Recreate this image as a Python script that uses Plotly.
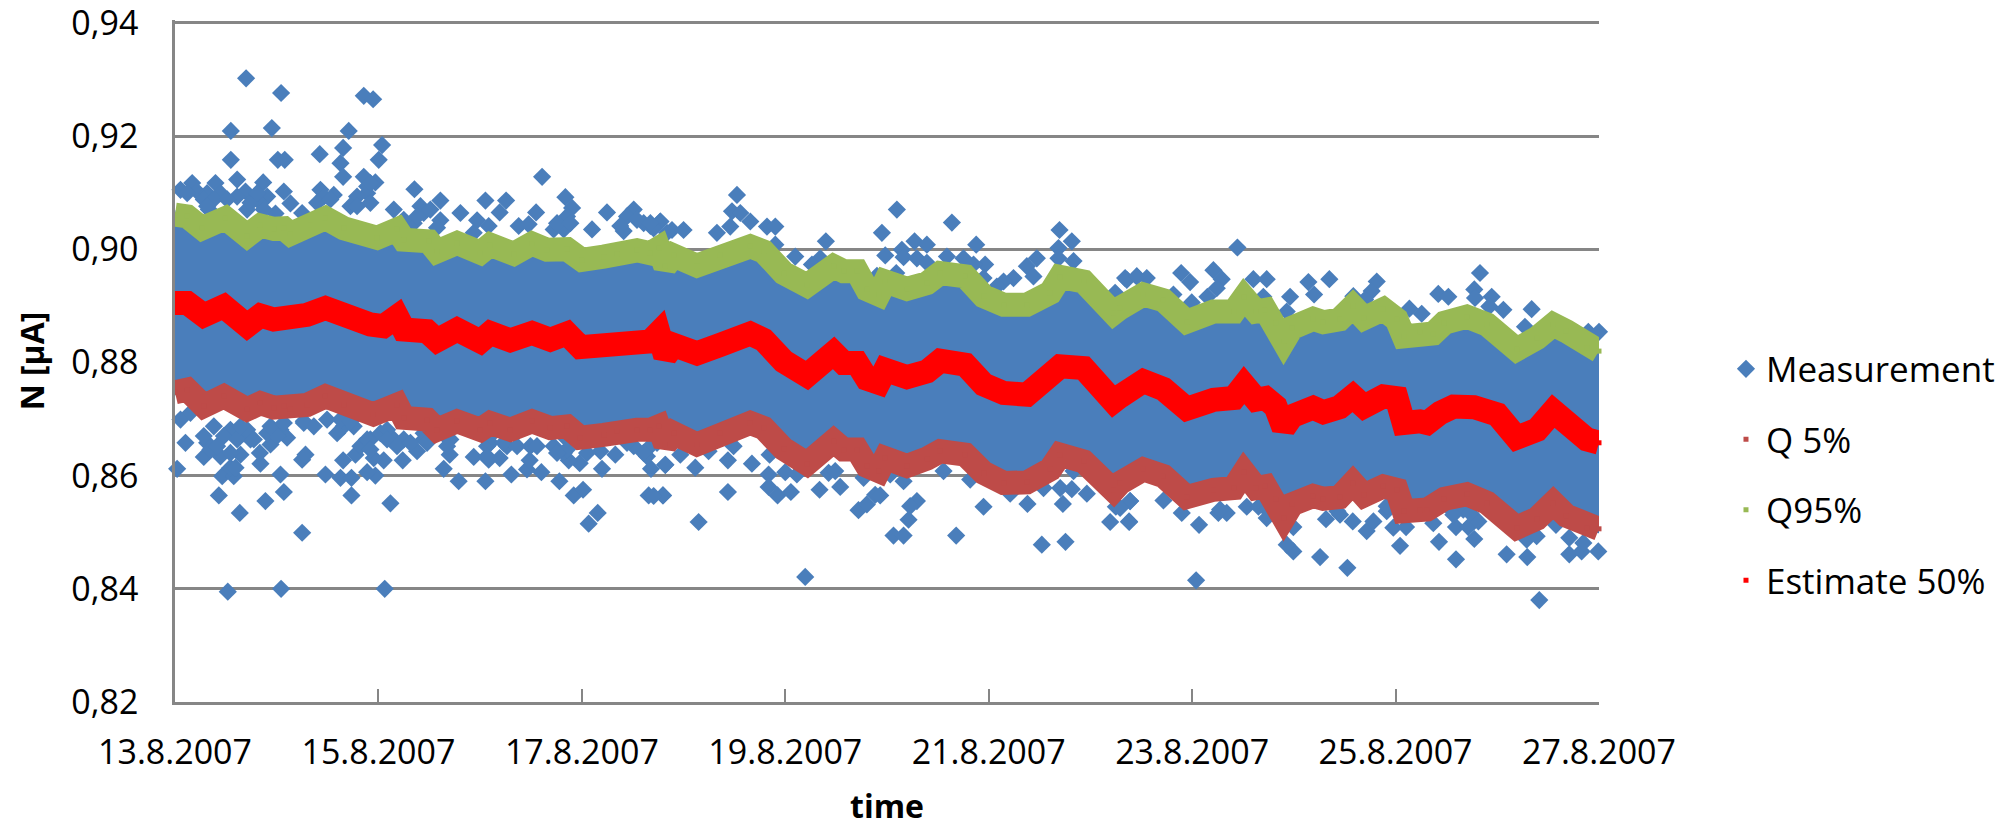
from datetime import datetime, timedelta
import plotly.graph_objects as go

START = datetime(2007, 8, 13)

estimate_days = [0,.12,.283,.48,.709,.84,.971,1.07,1.135,1.299,1.479,1.66,1.921,2.05,2.183,2.249,2.478,2.576,2.773,3.002,3.1,3.297,3.51,3.69,3.854,3.985,4.214,4.345,4.542,
 4.673,4.755,4.82,4.902,5.132,5.361,5.656,5.787,5.984,6.213,6.475,6.574,6.705,6.803,6.918,6.983,7.196,7.393,7.524,7.77,7.95,8.147,8.376,8.605,8.703,8.933,9.227,
 9.292,9.521,9.718,9.947,10.21,10.41,10.51,10.63,10.72,10.82,10.9,10.98,11.19,11.29,11.45,11.58,11.69,11.88,12.01,12.08,12.24,12.31,12.44,12.57,12.77,13.0,13.19,13.39,13.55,13.68,13.88,14.0]
estimate_vals = [.8905,.8905,.8883,.8899,.8865,.8883,.8876,.8879,.8871,.8884,.8896,.8881,.8867,.8864,.8881,.8858,.8855,.8839,.8858,.8837,.8852,.8839,.8852,.8840,.8851,.8827,.8830,.8837,.8839,
 .8837,.8852,.8811,.8831,.8816,.8831,.8851,.8840,.8802,.8777,.8817,.8799,.8799,.8771,.8764,.8787,.8774,.8784,.8803,.8796,.8761,.8746,.8743,.8778,.8793,.8790,.8731,
 .8740,.8767,.8753,.8718,.8734,.8737,.8760,.8734,.8737,.8722,.8684,.8705,.8720,.8712,.8721,.8740,.8722,.8740,.8737,.8693,.8696,.8693,.8711,.8722,.8721,.8708,.8667,.8681,.8714,.8690,.8664,.8658]

q95_days = [0,.12,.267,.496,.709,.84,.971,1.07,1.135,1.332,1.479,1.66,1.987,2.183,2.249,2.495,2.576,2.773,3.002,3.1,3.33,3.51,3.658,3.854,4.0,4.214,4.345,4.542,
 4.673,4.755,4.82,4.902,5.132,5.361,5.656,5.787,5.984,6.213,6.475,6.574,6.705,6.803,6.918,6.983,7.196,7.393,7.524,7.77,7.95,8.147,8.376,8.605,8.703,8.933,9.227,
 9.292,9.521,9.718,9.947,10.21,10.41,10.51,10.63,10.72,10.82,10.9,10.98,11.19,11.29,11.45,11.58,11.69,11.88,12.01,12.08,12.24,12.37,12.48,12.7,12.9,13.19,13.39,13.55,13.68,13.88,14.0]
q95_vals = [.9061,.9058,.9037,.9055,.9024,.9042,.9036,.9037,.9027,.9043,.9055,.9037,.9020,.9035,.9017,.9014,.8996,.9011,.8994,.9008,.8992,.9010,.8999,.9000,.8981,.8987,.8992,.8998,
 .8993,.9002,.8970,.8989,.8971,.8989,.9005,.8996,.8958,.8936,.8970,.8961,.8961,.8929,.8920,.8943,.8930,.8940,.8958,.8952,.8917,.8902,.8902,.8923,.8951,.8943,.8887,
 .8896,.8920,.8910,.8872,.8890,.8890,.8915,.8890,.8893,.8870,.8837,.8861,.8877,.8871,.8876,.8899,.8878,.8894,.8876,.8846,.8853,.8851,.8870,.8881,.8867,.8823,.8843,.8867,.8855,.8825,.8820]

q5_days = [0,.12,.283,.48,.709,.84,.971,1.07,1.135,1.299,1.479,1.66,1.95,2.183,2.249,2.478,2.576,2.773,3.002,3.1,3.297,3.51,3.69,3.854,3.985,4.214,4.345,4.542,
 4.673,4.755,4.82,4.902,5.132,5.361,5.656,5.787,5.984,6.213,6.475,6.574,6.705,6.803,6.918,6.983,7.196,7.393,7.524,7.77,7.95,8.147,8.376,8.605,8.703,8.933,9.227,
 9.292,9.521,9.718,9.947,10.21,10.41,10.51,10.63,10.72,10.82,10.9,10.98,11.19,11.29,11.45,11.58,11.69,11.88,12.01,12.08,12.24,12.31,12.48,12.7,12.9,13.19,13.39,13.55,13.68,13.88,14.0]
q5_vals = [.8747,.8752,.8723,.8740,.8717,.8728,.8720,.8723,.8717,.8725,.8740,.8725,.8708,.8725,.8702,.8699,.8681,.8696,.8681,.8693,.8681,.8696,.8684,.8687,.8667,.8672,.8678,.8681,
 .8681,.8687,.8655,.8675,.8655,.8675,.8693,.8684,.8647,.8621,.8661,.8646,.8646,.8617,.8608,.8631,.8617,.8630,.8643,.8637,.8605,.8587,.8588,.8611,.8637,.8625,.8574,
 .8587,.8611,.8599,.8562,.8575,.8578,.8606,.8578,.8581,.8558,.8525,.8549,.8564,.8559,.8562,.8587,.8565,.8581,.8575,.8537,.8540,.8540,.8559,.8567,.8552,.8508,.8524,.8552,.8529,.8508,.8506]

# individually read measurements outside the dense band
upper_days = [.699,1.043,1.856,1.948,.549,.952,1.708,2.036,1.653,1.423,.549,1.011,1.079,2.003,1.627,1.653,2.354,3.609,.611,.169,.398,.867,.054,.218,.316,.447,1.07,.693,.611,.906,.84,1.135,1.43,1.561,1.463,1.856,1.97,1.889,1.79,1.921,1.725,2.151,2.413,2.445,2.347,2.609,2.609,2.806,3.052,3.255,3.192,2.97,3.084,2.937,3.379,3.477,3.55,3.838,3.904,3.854,3.723,3.822,4.1,4.247,4.51,4.444,4.608,4.772,4.411,4.674,.988,1.25,.333,.709,2.576,
 5.525,7.097,7.638,5.476,5.558,4.771,4.706,4.886,5.0,5.328,5.459,5.656,5.82,5.902,6.95,8.696,8.817,6.399,7.271,7.392,7.877,7.146,6.983,7.163,7.294,8.686,8.473,6.098,5.902,6.344,6.262,7.589,7.752,7.965,7.851,7.949,7.392,7.091,6.901,8.375,8.834,8.686,8.244,8.146,8.44,8.08,9.341,9.456,9.243,9.554,
 10.445,12.83,10.209,9.892,9.98,10.291,10.242,10.15,9.996,9.358,9.456,10.602,10.733,11.143,11.349,11.199,10.963,10.93,11.815,11.765,12.774,12.781,12.945,12.922,13.06,12.42,12.519,12.136,12.257,13.338,13.272,13.895,14.0,10.7,11.585,11.7,9.816,
 .12,.283,.382,.513,.742,.808,.873,.316,1.397,1.528,1.889,1.921,1.79,2.249,2.38,2.511,4.542,4.674,4.837,4.378,3.756,3.887]
upper_vals = [.9302,.9276,.9271,.9265,.9209,.9214,.9209,.9184,.9179,.9168,.9158,.9158,.9158,.9158,.9152,.9128,.9106,.9128,.9123,.9117,.9117,.9118,.9105,.9102,.9099,.9099,.9102,.9102,.9093,.9093,.9082,.9081,.9105,.9096,.9093,.9128,.9118,.9099,.9093,.9082,.9076,.9070,.9076,.9064,.9046,.9086,.9051,.9064,.9086,.9086,.9065,.9051,.9041,.9029,.9041,.9044,.9065,.9092,.9073,.9058,.9035,.9035,.9035,.9065,.9070,.9058,.9046,.9049,.9032,.9041,.9063,.9064,.9070,.9070,.9038,
 .9096,.9070,.9047,.9067,.9064,.9049,.9037,.9034,.9034,.9029,.9040,.9049,.9040,.9040,.9029,.9034,.9014,.9014,.9014,.9008,.9008,.8999,.8989,.8986,.8984,.9002,.8984,.8987,.9008,.8984,.8973,.8987,.8984,.8973,.8973,.8949,.8976,.8958,.8953,.8970,.8979,.8984,.8949,.8943,.8952,.8934,.8949,.8952,.8923,.8949,
 .9003,.8958,.8963,.8958,.8942,.8947,.8931,.8916,.8906,.8946,.8952,.8947,.8947,.8942,.8947,.8920,.8916,.8890,.8943,.8926,.8929,.8914,.8916,.8899,.8893,.8921,.8916,.8895,.8886,.8894,.8863,.8854,.8854,.8916,.8917,.8911,.8920,
 .9099,.9088,.9088,.9088,.9082,.9099,.9070,.9076,.9082,.9088,.9111,.9117,.9076,.9052,.9058,.9070,.9052,.9046,.9029,.9041,.9046,.9046]

lower_days = [.519,1.043,2.062,1.25,2.118,4.067,4.156,.637,.889,.431,1.07,1.735,3.92,4.012,4.657,4.798,2.789,3.052,3.779,.464,.578,1.037,1.479,1.627,1.735,1.97,1.889,3.307,3.602,.021,.545,1.25,1.283,1.653,2.642,2.701,2.937,3.084,3.192,3.461,3.487,4.198,4.68,3.979,3.871,4.182,4.329,4.64,4.821,.283,.84,.834,1.774,2.052,2.239,1.954,2.38,1.823,.103,.316,.447,.644,.595,.742,.939,1.102,2.445,2.707,2.118,1.921,3.068,3.723,3.494,3.822,4.51,4.674,
 .054,.152,.382,.545,.676,.906,1.037,1.266,1.495,1.659,1.757,2.02,2.085,2.249,2.445,2.691,3.1,3.264,3.854,
 6.196,5.148,4.797,5.436,5.436,5.672,5.846,5.836,6.0,5.836,5.924,6.055,6.337,6.54,4.82,4.968,5.115,5.492,5.246,6.426,6.491,6.114,6.72,6.802,6.884,6.933,7.294,7.228,7.212,7.064,7.163,7.68,7.949,8.381,8.729,8.522,8.755,9.25,9.39,9.194,9.381,7.556,7.163,7.032,6.77,8.539,8.703,8.817,8.211,8.965,8.834,7.818,4.706,
 10.039,13.413,11.526,11.258,13.295,12.594,13.092,13.993,13.708,13.829,10.995,10.93,12.044,12.427,12.774,13.289,13.387,13.708,10.068,9.38,10.995,11.316,11.579,11.716,11.782,11.978,12.103,12.371,12.594,12.715,12.814,13.577,10.733,11.428,11.913,12.552,12.666,10.258,10.34,10.537,10.652,9.718,9.39,9.898,9.292,
 .283,.349,.48,.611,.545,.709,.775,.644,.414,1.004,.939,1.07,1.266,1.365,1.594,1.627,1.725,1.889,1.921,2.085,2.183,2.315,2.478,2.675,3.068,3.1,3.232,3.363,3.559,3.756,3.854,4.051,4.444,4.608,4.739,
 10.275,10.733,11.454,11.913,12.568,12.732,13.223,13.846]
lower_vals = [.8395,.8400,.8400,.8499,.8551,.8515,.8534,.8534,.8555,.8565,.8571,.8565,.8565,.8575,.8565,.8565,.8590,.8590,.8590,.8599,.8599,.8602,.8602,.8596,.8596,.8600,.8606,.8602,.8606,.8612,.8614,.8628,.8637,.8627,.8612,.8637,.8633,.8628,.8631,.8611,.8627,.8612,.8612,.8622,.8627,.8643,.8637,.8634,.8619,.8633,.8621,.8640,.8637,.8627,.8627,.8631,.8643,.8652,.8658,.8658,.8634,.8637,.8614,.8664,.8655,.8667,.8664,.8664,.8670,.8664,.8652,.8652,.8652,.8640,.8652,.8652,
 .8699,.8711,.8687,.8681,.8675,.8675,.8681,.8693,.8699,.8687,.8687,.8675,.8681,.8664,.8675,.8664,.8658,.8652,.8646,
 .8421,.8518,.8565,.8571,.8627,.8621,.8637,.8602,.8606,.8580,.8565,.8571,.8575,.8580,.8619,.8637,.8614,.8652,.8643,.8605,.8608,.8602,.8539,.8549,.8566,.8565,.8555,.8546,.8522,.8494,.8494,.8494,.8545,.8550,.8550,.8478,.8483,.8545,.8555,.8518,.8518,.8608,.8590,.8602,.8596,.8578,.8578,.8576,.8568,.8568,.8608,.8593,.8564,
 .8415,.8380,.8437,.8456,.8456,.8452,.8461,.8466,.8461,.8466,.8466,.8478,.8476,.8483,.8488,.8487,.8493,.8490,.8513,.8519,.8509,.8523,.8519,.8502,.8519,.8508,.8509,.8516,.8509,.8509,.8519,.8513,.8525,.8537,.8537,.8539,.8540,.8534,.8534,.8545,.8545,.8556,.8555,.8534,.8543,
 .8670,.8646,.8670,.8664,.8640,.8681,.8664,.8687,.8652,.8670,.8687,.8693,.8696,.8687,.8675,.8699,.8696,.8664,.8646,.8664,.8652,.8658,.8658,.8652,.8634,.8670,.8658,.8652,.8652,.8640,.8664,.8640,.8658,.8640,.8658,
 .8540,.8540,.8531,.8546,.8531,.8534,.8505,.8481]

y_ticks = [.82,.84,.86,.88,.90,.92,.94]
y_labels = ["0,82","0,84","0,86","0,88","0,90","0,92","0,94"]
x_tick_days = [0,2,4,6,8,10,12,14]
x_labels = ["13.8.2007","15.8.2007","17.8.2007","19.8.2007","21.8.2007","23.8.2007","25.8.2007","27.8.2007"]

BLUE, BROWN, GREEN, RED, GREY = "#4A7EBB", "#BE4B48", "#98B954", "#FF0000", "#868686"
FONT = "Open Sans"

def dates(days):
    return [START + timedelta(days=d) for d in days]

fig = go.Figure()
# dense body of the measurement cloud, bounded by the quantile curves
fig.add_trace(go.Scatter(x=dates(q95_days + q5_days[::-1]), y=q95_vals + q5_vals[::-1],
                         mode="lines", fill="toself", fillcolor=BLUE,
                         line=dict(color=BLUE, width=9), showlegend=False, hoverinfo="skip", cliponaxis=False))
fig.add_trace(go.Scatter(x=dates(upper_days + lower_days), y=upper_vals + lower_vals, mode="markers",
                         name="Measurement", legendgroup="a",
                         marker=dict(symbol="diamond", size=14, color=BLUE), cliponaxis=False))
for name, days, vals, col, grp in [("Q 5%", q5_days, q5_vals, BROWN, "b"),
                                   ("Q95%", q95_days, q95_vals, GREEN, "c"),
                                   ("Estimate 50%", estimate_days, estimate_vals, RED, "d")]:
    fig.add_trace(go.Scatter(x=dates(days), y=vals, mode="lines", line=dict(color=col, width=24),
                             showlegend=False, legendgroup=grp, cliponaxis=False))
    fig.add_trace(go.Scatter(x=dates(days), y=vals, mode="markers", name=name, legendgroup=grp,
                             marker=dict(symbol="square", size=5, color=col), cliponaxis=False))

fig.update_layout(
    width=2010, height=827, autosize=False, paper_bgcolor="white", plot_bgcolor="white",
    margin=dict(l=174.5, r=411, t=20.2, b=124.5),
    font=dict(family=FONT, size=34, color="#000000"),
    legend=dict(xref="container", yref="container", x=0.8587, xanchor="left", y=0.4262, yanchor="middle",
                tracegroupgap=22, font=dict(family=FONT, size=35), itemsizing="trace", itemwidth=30,
                bgcolor="rgba(0,0,0,0)"),
    xaxis=dict(type="date", range=[START, START + timedelta(days=14)], automargin=False,
               tickmode="array", tickvals=dates(x_tick_days), ticktext=x_labels,
               ticks="inside", ticklen=13, tickwidth=1.5, tickcolor=GREY, ticklabelstandoff=18,
               ticklabeloverflow="allow",
               showline=True, linecolor=GREY, linewidth=2.5, showgrid=False, zeroline=False,
               title=dict(text="<b>time</b>", font=dict(family=FONT, size=32), standoff=34)),
    yaxis=dict(range=[.82, .9405], automargin=False, tickmode="array", tickvals=y_ticks, ticktext=y_labels,
               ticks="", showline=True, linecolor=GREY, linewidth=2.5, ticklabeloverflow="allow",
               showgrid=True, gridcolor=GREY, gridwidth=2.5, zeroline=False, ticklabelstandoff=27,
               title=dict(text="<b>N [µA]</b>", font=dict(family=FONT, size=32), standoff=18)),
)
fig.write_html("out.html", post_script="document.body.style.margin='0';", config={"displayModeBar": False})
